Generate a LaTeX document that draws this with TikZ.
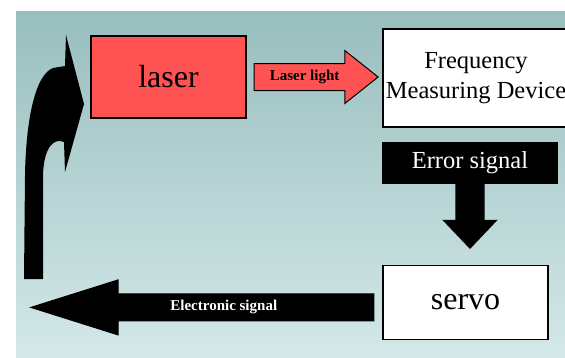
\documentclass[tikz,border=0pt]{standalone}
\usepackage{fontspec}
\setmainfont{Liberation Serif}
\usetikzlibrary{positioning,shapes.arrows}

\definecolor{laserred}{RGB}{255,82,82}
\definecolor{bgtop}{RGB}{152,190,190}
\definecolor{bgbottom}{RGB}{212,232,232}

\begin{document}
\begin{tikzpicture}[x=1pt,y=-1pt,
	box/.style={draw=black,line width=1.2pt,rectangle,inner sep=0pt},
	blockarrow/.style={single arrow,draw=black,line width=1pt,inner ysep=6.5pt,
		text height=10pt,text depth=3pt,font=\bfseries\fontsize{15}{15}\selectfont}]
\clip (0,0) rectangle (565,357);
\shade[top color=bgtop,bottom color=bgbottom] (16,11) rectangle (565,357);
% blocks
\node[box,fill=laserred,minimum width=155pt,minimum height=82pt,
	font=\fontsize{32}{32}\selectfont] (laser) at (168.5,77) {laser};
\node[blockarrow,fill=laserred,minimum height=124pt,single arrow head extend=13pt,
	single arrow tip angle=77] (light) [right=7pt of laser] {Laser light\hspace*{6pt}};
\node[box,fill=white,minimum width=186pt,minimum height=98pt,align=center,
	font=\fontsize{24.5}{30}\selectfont] (freq) at (476,78) {Frequency\\Measuring Device};
\node[box,fill=black,text=white,minimum width=174pt,minimum height=41pt,
	font=\fontsize{24.5}{24.5}\selectfont] (err) [below right=14pt and 0pt of freq.south west] {Error signal};
\node[single arrow,fill=black,shape border rotate=270,inner sep=14.5pt,minimum height=65pt,
	single arrow head extend=13pt,single arrow tip angle=87] (errarrow) [below=0pt of err] {};
\node[box,fill=white,minimum width=165pt,minimum height=74pt,
	font=\fontsize{32}{32}\selectfont] (servo) [below right=81pt and 0pt of err.south west] {servo};
\node[blockarrow,fill=black,text=white,shape border rotate=180,minimum height=343pt,
	single arrow head extend=14pt,single arrow tip angle=35] (elec) [left=8pt of servo,yshift=-5pt]
	{Electronic signal};
% feedback back up to the laser
\fill (24,279) -- (25,175) .. controls (26,120) and (35,75) .. (53,68) -- (65,66) -- (66,35)
	-- (84,104) -- (65,172) -- (64,142) .. controls (55,138) and (44,145) .. (43,175)
	-- (43,279) -- cycle;
\end{tikzpicture}
\end{document}
